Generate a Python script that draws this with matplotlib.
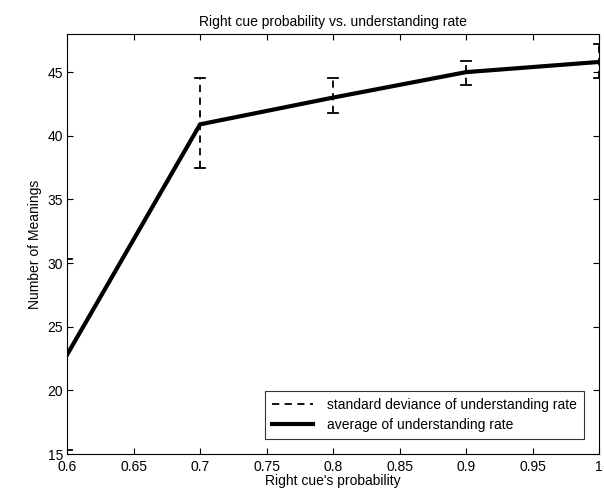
import matplotlib.pyplot as plt

plt.rcParams['font.family'] = ['Liberation Sans', 'DejaVu Sans']

prob = [0.6, 0.7, 0.8, 0.9, 1.0]
avg_rate = [22.8, 40.9, 43.0, 45.0, 45.8]
err_low = [15.3, 37.5, 41.8, 44.0, 44.5]
err_high = [30.3, 44.5, 44.5, 45.9, 47.2]


def draw_errorbars(ax, xs, lows, highs, cap=0.004):
    """Пунктирные вертикальные отрезки с засечками, как в MATLAB errorbar"""
    for x, lo, hi in zip(xs, lows, highs):
        ax.plot([x, x], [lo, hi], color="black", linestyle=(0, (4, 3)), linewidth=1.3)
        ax.plot([x - cap, x + cap], [lo, lo], color="black", linewidth=1.3)
        ax.plot([x - cap, x + cap], [hi, hi], color="black", linewidth=1.3)


fig = plt.figure(figsize=(6.04, 4.99), dpi=100)
ax = fig.add_axes([0.111, 0.090, 0.881, 0.842])

draw_errorbars(ax, prob, err_low, err_high)
ax.plot(prob, avg_rate, color="black", linewidth=3.0)

# элементы легенды
ax.plot([], [], color="black", linestyle=(0, (4, 3)), linewidth=1.3,
        label="standard deviance of understanding rate")
ax.plot([], [], color="black", linewidth=3.0, label="average of understanding rate")

ax.set_xlim(0.6, 1.0)
ax.set_ylim(15, 48)
ax.set_xticks([0.6, 0.65, 0.7, 0.75, 0.8, 0.85, 0.9, 0.95, 1.0])
ax.set_xticklabels(["0.6", "0.65", "0.7", "0.75", "0.8", "0.85", "0.9", "0.95", "1"])
ax.set_yticks([15, 20, 25, 30, 35, 40, 45])
ax.tick_params(direction="in", top=True, right=True, labelsize=10, length=4)
ax.tick_params(axis="x", pad=4)
ax.tick_params(axis="y", pad=3)

ax.set_title("Right cue probability vs. understanding rate", fontsize=10)
ax.set_xlabel("Right cue's probability", fontsize=10, labelpad=0)
ax.set_ylabel("Number of Meanings", fontsize=10)

leg = ax.legend(loc="lower right", fontsize=10, frameon=True, fancybox=False,
                edgecolor="black", handlelength=3.0, handletextpad=1.0,
                borderaxespad=1.1, borderpad=0.5, labelspacing=0.4)
leg.get_frame().set_linewidth(0.8)

fig.savefig("out.png", dpi=100)
